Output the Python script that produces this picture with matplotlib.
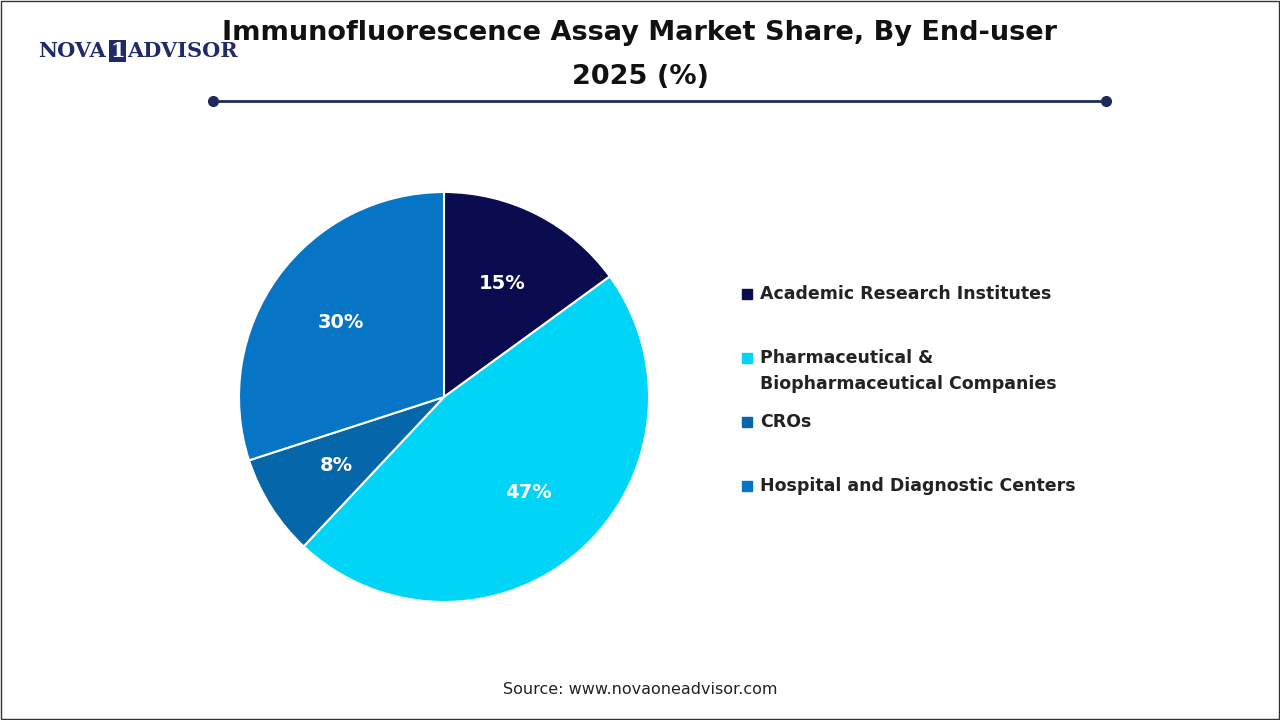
import matplotlib
matplotlib.use("Agg")
import matplotlib.pyplot as plt
from matplotlib.lines import Line2D
from matplotlib.patches import Rectangle

labels = ["Academic Research Institutes", "Pharmaceutical &\nBiopharmaceutical Companies", "CROs", "Hospital and Diagnostic Centers"]
values = [15, 47, 8, 30]
colors = ["#0B0B4F", "#00D4F7", "#0666AA", "#0675C6"]

fig = plt.figure(figsize=(12.8, 7.2), dpi=100)
fig.patch.set_facecolor("white")
fig.add_artist(Rectangle((0.001, 0.001), 0.998, 0.998, transform=fig.transFigure, fill=False, edgecolor="#333333", lw=1))

ax = fig.add_axes([444/1280 - 205/1280, 1 - (397 + 205)/720, 410/1280, 410/720])
wedges, texts, autotexts = ax.pie(values, colors=colors, startangle=90, counterclock=False,
    autopct=lambda p: f"{p:.0f}%", pctdistance=0.62,
    wedgeprops=dict(edgecolor="white", linewidth=1.5),
    textprops=dict(color="white", fontsize=14, fontweight="bold"))
ax.set_xlim(-1, 1)
ax.set_ylim(-1, 1)
ax.set_aspect("equal")
ax.axis("off")

fig.text(0.5, 1 - 33/720, "Immunofluorescence Assay Market Share, By End-user", ha="center", va="center", fontsize=19.5, fontweight="bold", color="#111111")
fig.text(0.5, 1 - 77/720, "2025 (%)", ha="center", va="center", fontsize=19.5, fontweight="bold", color="#111111")
fig.add_artist(Line2D([213/1280, 1106/1280], [1 - 101/720] * 2, transform=fig.transFigure, color="#1F2A5A", lw=2, marker="o", markersize=7, markevery=[0, 1]))

fig.text(38/1280, 1 - 51/720, "NOVA", fontsize=15, fontweight="bold", family="DejaVu Serif", color="#1F2A6B", va="center")
fig.text(110/1280, 1 - 51/720, "1", fontsize=15, fontweight="bold", family="DejaVu Serif", color="white", va="center",
         bbox=dict(facecolor="#1F2A6B", edgecolor="none", pad=1))
fig.text(127/1280, 1 - 51/720, "ADVISOR", fontsize=15, fontweight="bold", family="DejaVu Serif", color="#1F2A6B", va="center")

ys = [294, 371, 422, 486]
sq = [294, 358, 422, 486]
for lab, c, y, s in zip(labels, colors, ys, sq):
    fig.add_artist(Rectangle((742/1280, 1 - (s + 5)/720), 10/1280, 10/720, transform=fig.transFigure, color=c))
    fig.text(760/1280, 1 - y/720, lab, fontsize=12.5, fontweight="bold", color="#222222", va="center", linespacing=1.6)

fig.text(640/1280, 1 - 689/720, "Source: www.novaoneadvisor.com", ha="center", va="center", fontsize=11.5, color="#222222")
fig.savefig("out.png", dpi=100)
